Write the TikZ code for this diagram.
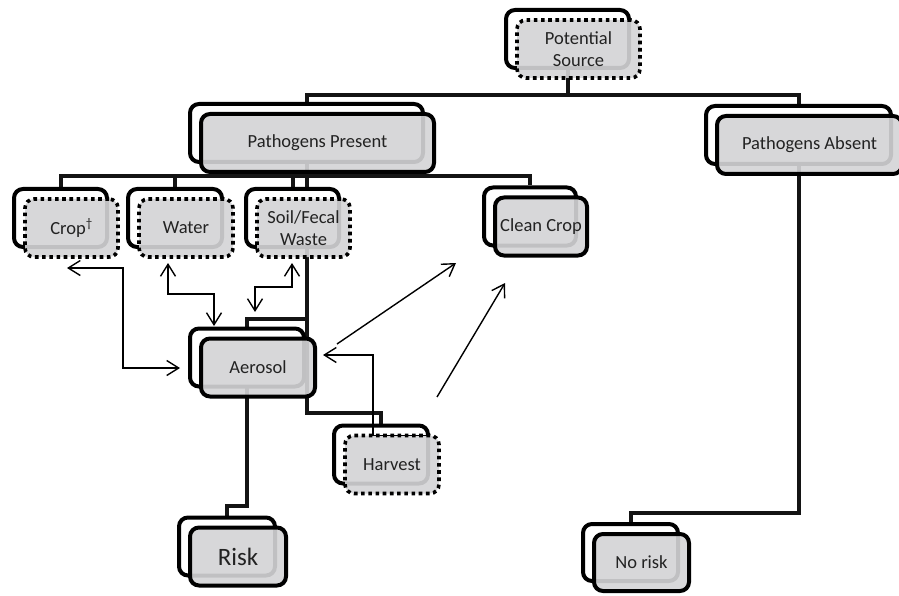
\documentclass[tikz,border=0pt]{standalone}
\usepackage{fontspec}
\setmainfont{Carlito}
\usetikzlibrary{arrows.meta,calc}
\definecolor{boxgray}{RGB}{212,212,214}
\definecolor{ink}{RGB}{34,34,34}
\pgfdeclarelayer{wires}
\pgfsetlayers{wires,main}

\tikzset{
  backbox/.style={draw=black, line width=4pt, rounded corners=9pt, fill=white, inner sep=0pt},
  facebox/.style={draw=black, line width=4pt, rounded corners=9pt, fill=boxgray,
    fill opacity=0.91, text opacity=1, text=ink, inner sep=0pt, align=center,
    font=\fontsize{18.5}{22}\selectfont},
  solidface/.style={facebox},
  dottedface/.style={facebox, line width=3.6pt, dash pattern=on 3.6pt off 3.6pt},
  wire/.style={line width=4pt, draw=black!92},
  arr/.style={line width=1.4pt, draw=black},
  >={Straight Barb[length=12pt,width=15pt]},
}

% a shaded face box with a white twin behind it, up and to the left
% #1 name, #2 centre, #3 width, #4 height, #5 face style, #6 text
\newcommand\duo[6]{%
  \node[backbox, minimum width=#3, minimum height=#4] (#1b) at ($(#2)+(-11,-10)$) {};
  \node[#5, minimum width=#3, minimum height=#4] (#1) at (#2) {#6};
}

\begin{document}
\begin{tikzpicture}[x=1pt,y=-1pt]
\useasboundingbox (0,0) rectangle (899,596);

\duo{ps}{578.5,49}{123pt}{58pt}{dottedface}{Potential\\Source}
\duo{pp}{317.5,143}{233pt}{58pt}{solidface}{Pathogens Present}
\duo{pa}{809.5,145}{185pt}{58pt}{solidface}{Pathogens Absent}
\duo{crop}{71.5,228}{93pt}{58pt}{dottedface}{Crop\textsuperscript{\textdagger}}
\duo{water}{186,228}{94pt}{58pt}{dottedface}{Water}
\duo{soil}{303.5,228}{93pt}{58pt}{dottedface}{Soil/Fecal\\Waste}
\duo{clean}{541,226.5}{92pt}{58pt}{solidface}{Clean Crop}
\duo{aer}{258,367.5}{114pt}{58pt}{solidface}{Aerosol}
\duo{harv}{392,464.5}{94pt}{58pt}{dottedface}{Harvest}
\duo{risk}{238,556.5}{96pt}{58pt}{solidface}{\fontsize{25}{30}\selectfont Risk}
\duo{nor}{641.5,562.5}{95pt}{57pt}{solidface}{No risk}

% heights of the horizontal runs of the tree connectors
\coordinate (busTop) at (0,95);
\coordinate (busMid) at (0,176);
\coordinate (busAer) at (0,319);
\coordinate (busHarv) at (0,413);
\coordinate (busRisk) at (0,506);
\coordinate (busNo) at (0,513);

\begin{pgfonlayer}{wires}
  \draw[wire] (psb.center) -- (psb.center |- busTop);
  \draw[wire] (ppb.north) |- (pab.north |- busTop) -- (pab.north);
  \draw[wire] (cropb.north) |- (cleanb.north |- busMid) -- (cleanb.north);
  \draw[wire] (waterb.north) -- (waterb.north |- busMid);
  \draw[wire] (soilb.north) -- (soilb.north |- busMid);
  \draw[wire] (ppb.center) -- (ppb.center |- busHarv) -| (harvb.north);
  \draw[wire] (ppb.center |- busAer) -| (aerb.north);
  \draw[wire] (aerb.center) -- (aerb.center |- busRisk) -| (riskb.north);
  \draw[wire] (pab.center) -- (pab.center |- busNo) -| (norb.north);
\end{pgfonlayer}

% thin exchange arrows
\coordinate (cropTip) at (67,268);
\coordinate (cropBend) at (123,268);
\coordinate (aerW) at (180,368);
\draw[arr,<->] (cropTip) -- (cropBend) |- (aerW);

\coordinate (waterTip) at (168,263);
\coordinate (waterBend) at (168,294);
\coordinate (aerN1) at (214,326);
\draw[arr,<->] (waterTip) -- (waterBend) -| (aerN1);

\coordinate (soilTip) at (292,263);
\coordinate (soilBend) at (292,287);
\coordinate (aerN2) at (255,312);
\draw[arr,<->] (soilTip) -- (soilBend) -| (aerN2);

\coordinate (harvEdge) at (427,435.5);
\coordinate (harvBend) at (373,435.5);
\coordinate (aerE) at (323,355);
\draw[arr,->] (harvEdge) -- (harvBend) |- (aerE);

\coordinate (aerOut) at (337,344);
\coordinate (cleanIn1) at (456,263);
\draw[arr,->] (aerOut) -- (cleanIn1);

\coordinate (harvOut) at (437,397);
\coordinate (cleanIn2) at (505,283);
\draw[arr,->] (harvOut) -- (cleanIn2);
\end{tikzpicture}
\end{document}
